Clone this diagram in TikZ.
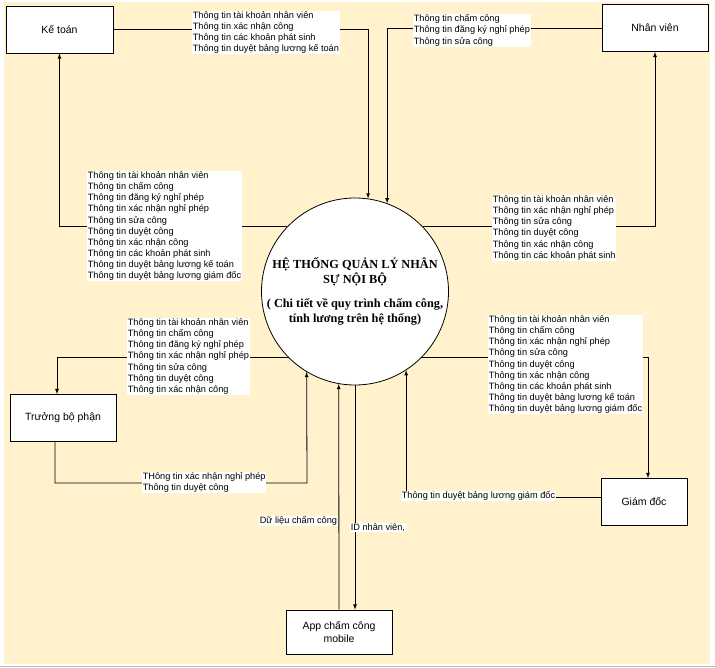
\documentclass[tikz,border=0pt]{standalone}
\usepackage{fontspec}
\setmainfont{Liberation Serif}
\newfontfamily\arialfont{Liberation Sans}
\usetikzlibrary{calc}
\definecolor{bgyellow}{HTML}{FFF2CC}

\begin{document}
\begin{tikzpicture}[x=1pt,y=-1pt,>=latex]
    \tikzstyle{entity}=[draw=black,fill=white,line width=0.8pt,minimum height=47pt,inner sep=2pt,align=center,font=\arialfont\fontsize{10.5}{13}\selectfont]
    \tikzstyle{flow}=[fill=white,anchor=north west,align=left,inner sep=0.6pt,font=\arialfont\fontsize{9.2}{11.1}\selectfont]
    \tikzstyle{link}=[->,line width=0.8pt]

    \useasboundingbox (0,0) rectangle (715,668);
    \fill[bgyellow] (4,2) rectangle (710,664);
    \draw[gray!50] (0,666.5) -- (715,666.5);

    % external entities
    \foreach \name/\x/\y/\w/\txt in {ketoan/59.5/29.5/107/{Kế toán}, nhanvien/655/28/106/{Nhân viên},
            truong/63/418/106/{Trưởng bộ phận}, giamdoc/644/502/86/{Giám đốc}}
        \node[entity,minimum width=\w pt] (\name) at (\x,\y) {\txt};
    \node[entity,minimum width=106pt,minimum height=44pt] (app) at (339,632) {App chấm công\\mobile};

    % process
    \node[circle,draw=black,fill=white,line width=0.8pt,minimum size=187pt,inner sep=0pt] (ht) at (355,291.5) {};
    \node[align=center,inner sep=0pt,font=\bfseries\fontsize{12.3}{15.5}\selectfont] (ht-text) at (ht.center)
          {HỆ THỐNG QUẢN LÝ NHÂN\\SỰ NỘI BỘ\\[8pt]( Chi tiết về quy trình chấm công,\\tính lương trên hệ thống)};

    % data flows
    \draw[link] (ketoan.east) -| (ht.82);
    \draw[link] (nhanvien.west) -| (ht.70);
    \draw[link] (ht.136) -| (ketoan.south);
    \draw[link] (ht.44) -| (nhanvien.south);
    \draw[link] (ht.225) -| ($(truong.north)+(-6,0)$);
    \coordinate (tb-turn) at (307,483);
    \draw[link] ($(truong.south)+(-8,0)$) |- (tb-turn) -- (ht.239);
    \draw[link] (ht.315) -| ($(giamdoc.north)+(4,0)$);
    \draw[link] ($(giamdoc.west)+(0,-5)$) -| (ht.303);
    \draw[link] (app.north) -- (ht.260);
    \draw[link] (ht.south) -- (ht.south |- app.north);

    % flow labels
    \node[flow] (f-kt-in) at (192,11) {Thông tin tài khoản nhân viên\\Thông tin xác nhận công\\Thông tin các khoản phát sinh\\Thông tin duyệt bảng lương kế toán};
    \node[flow] (f-nv-in) at (413,14) {Thông tin chấm công\\Thông tin đăng ký nghỉ phép\\Thông tin sửa công};
    \node[flow] (f-kt-out) at (87,171) {Thông tin tài khoản nhân viên\\Thông tin chấm công\\Thông tin đăng ký nghỉ phép\\Thông tin xác nhận nghỉ phép\\Thông tin sửa công\\Thông tin duyệt công\\Thông tin xác nhận công\\Thông tin các khoản phát sinh\\Thông tin duyệt bảng lương kế toán\\Thông tin duyệt bảng lương giám đốc};
    \node[flow] (f-nv-out) at (492,195) {Thông tin tài khoản nhân viên\\Thông tin xác nhận nghỉ phép\\Thông tin sửa công\\Thông tin duyệt công\\Thông tin xác nhận công\\Thông tin các khoản phát sinh};
    \node[flow] (f-tb-out) at (127,318) {Thông tin tài khoản nhân viên\\Thông tin chấm công\\Thông tin đăng ký nghỉ phép\\Thông tin xác nhận nghỉ phép\\Thông tin sửa công\\Thông tin duyệt công\\Thông tin xác nhận công};
    \node[flow] (f-tb-in) at (142,472) {THông tin xác nhận nghỉ phép\\Thông tin duyệt công};
    \node[flow] (f-gd-out) at (488,315) {Thông tin tài khoản nhân viên\\Thông tin chấm công\\Thông tin xác nhận nghỉ phép\\Thông tin sửa công\\Thông tin duyệt công\\Thông tin xác nhận công\\Thông tin các khoản phát sinh\\Thông tin duyệt bảng lương kế toán\\Thông tin duyệt bảng lương giám đốc};
    \node[flow] (f-gd-in) at (401,491) {Thông tin duyệt bảng lương giám đốc};
    \node[flow] (f-app-in) at (259,516) {Dữ liệu chấm công};
    \node[flow] (f-app-out) at (350,523) {ID nhân viên,};
\end{tikzpicture}
\end{document}
